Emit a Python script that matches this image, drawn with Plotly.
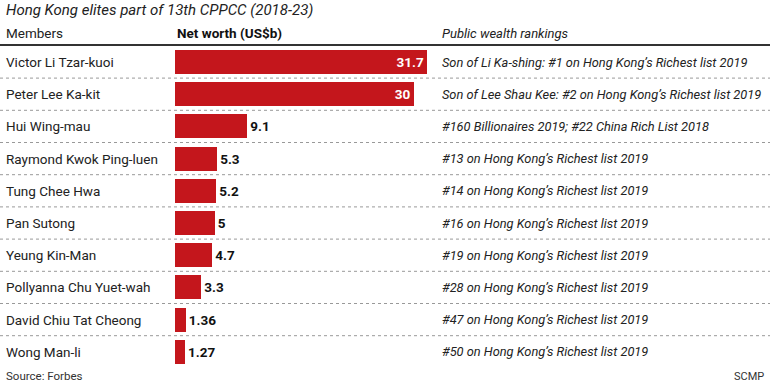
import plotly.graph_objects as go

members = ["Victor Li Tzar-kuoi", "Peter Lee Ka-kit", "Hui Wing-mau", "Raymond Kwok Ping-luen",
           "Tung Chee Hwa", "Pan Sutong", "Yeung Kin-Man", "Pollyanna Chu Yuet-wah",
           "David Chiu Tat Cheong", "Wong Man-li"]
net_worth = [31.7, 30, 9.1, 5.3, 5.2, 5, 4.7, 3.3, 1.36, 1.27]
value_labels = ["31.7", "30", "9.1", "5.3", "5.2", "5", "4.7", "3.3", "1.36", "1.27"]
rankings = ["Son of Li Ka-shing: #1 on Hong Kong’s Richest list 2019",
            "Son of Lee Shau Kee: #2 on Hong Kong’s Richest list 2019",
            "#160 Billionaires 2019; #22 China Rich List 2018",
            "#13 on Hong Kong’s Richest list 2019",
            "#14 on Hong Kong’s Richest list 2019",
            "#16 on Hong Kong’s Richest list 2019",
            "#19 on Hong Kong’s Richest list 2019",
            "#28 on Hong Kong’s Richest list 2019",
            "#47 on Hong Kong’s Richest list 2019",
            "#50 on Hong Kong’s Richest list 2019"]

W, H = 770, 385
FONT = "Roboto"
RED = "#c4161c"

idx = list(range(len(members)))
textpos = ["inside" if v > 20 else "outside" for v in net_worth]
textcol = ["white" if v > 20 else "#111" for v in net_worth]

fig = go.Figure()
fig.add_trace(go.Bar(
    x=net_worth, y=idx, orientation="h", width=0.75,
    marker=dict(color=RED, line=dict(width=0)),
    text=value_labels, textposition=textpos, insidetextanchor="end",
    textfont=dict(family=FONT, size=13.5, color=textcol, weight="bold"),
    cliponaxis=False, hoverinfo="skip",
))

# pixel mapping: bar origin at x=175, 7.95 px per unit; rows at 62 + i*32.2
x0px, pxu = 175, 7.95
row0, rowh = 62, 32.2
xr = [-x0px / pxu, (W - x0px) / pxu]
yr = [(H - row0) / rowh, -row0 / rowh]

fig.update_xaxes(range=xr, visible=False, fixedrange=True)
fig.update_yaxes(range=yr, visible=False, fixedrange=True)

anns = []
for i, (m, r) in enumerate(zip(members, rankings)):
    anns.append(dict(x=4 / W, y=i, xref="paper", yref="y", text=m, showarrow=False,
                     xanchor="left", yanchor="middle",
                     font=dict(family=FONT, size=13.5, color="#222")))
    anns.append(dict(x=440 / W, y=i, xref="paper", yref="y", text="<i>" + r + "</i>", showarrow=False,
                     xanchor="left", yanchor="middle",
                     font=dict(family=FONT, size=12.8, color="#222")))

# headers
anns += [
    dict(x=4 / W, y=1 - 10 / H, xref="paper", yref="paper", text="<i>Hong Kong elites part of 13th CPPCC (2018-23)</i>",
         showarrow=False, xanchor="left", yanchor="middle", font=dict(family=FONT, size=15, color="#222")),
    dict(x=4 / W, y=1 - 33 / H, xref="paper", yref="paper", text="Members",
         showarrow=False, xanchor="left", yanchor="middle", font=dict(family=FONT, size=13.5, color="#222")),
    dict(x=175 / W, y=1 - 33 / H, xref="paper", yref="paper", text="<b>Net worth (US$b)</b>",
         showarrow=False, xanchor="left", yanchor="middle", font=dict(family=FONT, size=13.5, color="#111")),
    dict(x=440 / W, y=1 - 33 / H, xref="paper", yref="paper", text="<i>Public wealth rankings</i>",
         showarrow=False, xanchor="left", yanchor="middle", font=dict(family=FONT, size=13, color="#222")),
    dict(x=4 / W, y=1 - 376 / H, xref="paper", yref="paper", text="Source: Forbes",
         showarrow=False, xanchor="left", yanchor="middle", font=dict(family=FONT, size=11.5, color="#333")),
    dict(x=766 / W, y=1 - 376 / H, xref="paper", yref="paper", text="SCMP",
         showarrow=False, xanchor="right", yanchor="middle", font=dict(family=FONT, size=11, color="#333")),
]

shapes = [dict(type="line", xref="paper", yref="paper", x0=0, x1=1, y0=1 - 45 / H, y1=1 - 45 / H,
               line=dict(color="#333", width=2))]
for i in idx[:-1]:
    shapes.append(dict(type="line", xref="paper", yref="y", x0=0, x1=1, y0=i + 0.5, y1=i + 0.5,
                       line=dict(color="#999", width=1, dash="dot")))

fig.update_layout(
    width=W, height=H, margin=dict(l=0, r=0, t=0, b=0),
    paper_bgcolor="white", plot_bgcolor="white",
    showlegend=False, annotations=anns, shapes=shapes, bargap=0,
)

fig.write_html("out.html", config={"displayModeBar": False, "staticPlot": True},
               post_script="document.body.style.margin='0';document.body.style.overflow='hidden';")
